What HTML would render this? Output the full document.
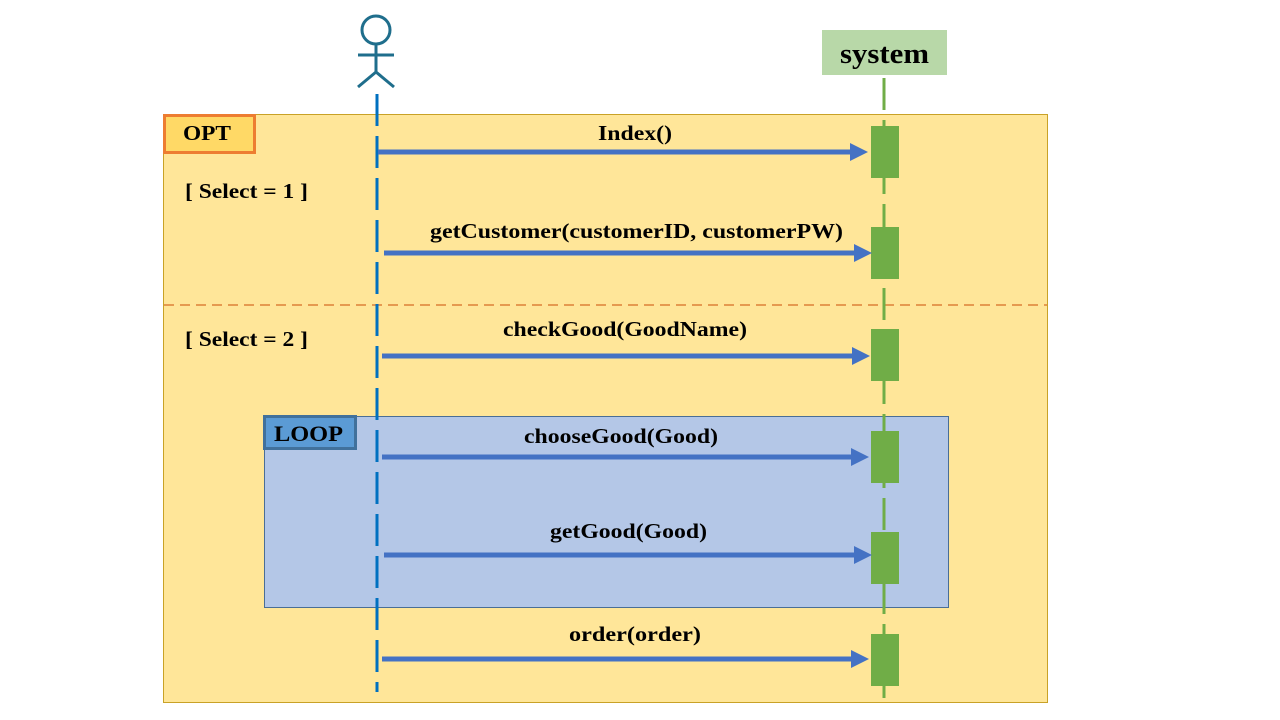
<!DOCTYPE html>
<html><head><meta charset="utf-8"><style>body{margin:0;background:#fff}svg{display:block}text{font-family:"Liberation Serif",serif;font-weight:bold;fill:#000}</style></head><body>
<svg width="1280" height="720" viewBox="0 0 1280 720" xmlns="http://www.w3.org/2000/svg">
<rect x="163.5" y="114.5" width="884" height="588" fill="#FFE699" stroke="#C9A227" stroke-width="1"/>
<rect x="264.5" y="416.5" width="684" height="191" fill="#B4C7E7" stroke="#4A6E96" stroke-width="1"/>
<line x1="164" y1="305" x2="1047" y2="305" stroke="#E59A50" stroke-width="2" stroke-dasharray="10,6"/>
<rect x="164.5" y="115.5" width="90" height="37" fill="#FFD966" stroke="#ED7D31" stroke-width="3"/>
<text x="183" y="140" font-size="21" textLength="48" lengthAdjust="spacingAndGlyphs">OPT</text>
<rect x="264.5" y="416.5" width="91" height="32" fill="#5B9BD5" stroke="#41719C" stroke-width="3"/>
<text x="274" y="441" font-size="22" textLength="69" lengthAdjust="spacingAndGlyphs">LOOP</text>
<text x="185" y="198" font-size="21" textLength="123" lengthAdjust="spacingAndGlyphs">[ Select = 1 ]</text>
<text x="185" y="346" font-size="21" textLength="123" lengthAdjust="spacingAndGlyphs">[ Select = 2 ]</text>
<rect x="822" y="30" width="125" height="45" fill="#B8D8A8"/>
<text x="840" y="63" font-size="28" textLength="89" lengthAdjust="spacingAndGlyphs">system</text>
<g stroke="#1F6E8C" stroke-width="3" fill="none">
<circle cx="376" cy="30" r="14"/>
<line x1="376" y1="44" x2="376" y2="72"/>
<line x1="358" y1="55" x2="394" y2="55"/>
<line x1="358" y1="87" x2="376" y2="72"/>
<line x1="394" y1="87" x2="376" y2="72"/>
</g>
<line x1="377" y1="94" x2="377" y2="692" stroke="#0070C0" stroke-width="3" stroke-dasharray="32,10"/>
<line x1="884" y1="78" x2="884" y2="700" stroke="#70AD47" stroke-width="3" stroke-dasharray="32,10"/>
<g fill="#70AD47">
<rect x="871" y="126" width="28" height="52"/>
<rect x="871" y="227" width="28" height="52"/>
<rect x="871" y="329" width="28" height="52"/>
<rect x="871" y="431" width="28" height="52"/>
<rect x="871" y="532" width="28" height="52"/>
<rect x="871" y="634" width="28" height="52"/>
</g>
<g stroke="#4472C4" stroke-width="5">
<line x1="378" y1="152" x2="852" y2="152"/>
<line x1="384" y1="253" x2="856" y2="253"/>
<line x1="382" y1="356" x2="854" y2="356"/>
<line x1="382" y1="457" x2="853" y2="457"/>
<line x1="384" y1="555" x2="856" y2="555"/>
<line x1="382" y1="659" x2="853" y2="659"/>
</g>
<g fill="#4472C4">
<polygon points="850,143 868,152 850,161"/>
<polygon points="854,244 872,253 854,262"/>
<polygon points="852,347 870,356 852,365"/>
<polygon points="851,448 869,457 851,466"/>
<polygon points="854,546 872,555 854,564"/>
<polygon points="851,650 869,659 851,668"/>
</g>
<g font-size="21" lengthAdjust="spacingAndGlyphs">
<text x="598" y="140" textLength="74" lengthAdjust="spacingAndGlyphs">Index()</text>
<text x="430" y="238" textLength="413" lengthAdjust="spacingAndGlyphs">getCustomer(customerID, customerPW)</text>
<text x="503" y="336" textLength="244" lengthAdjust="spacingAndGlyphs">checkGood(GoodName)</text>
<text x="524" y="443" textLength="194" lengthAdjust="spacingAndGlyphs">chooseGood(Good)</text>
<text x="550" y="538" textLength="157" lengthAdjust="spacingAndGlyphs">getGood(Good)</text>
<text x="569" y="641" textLength="132" lengthAdjust="spacingAndGlyphs">order(order)</text>
</g>
</svg>
</body></html>
